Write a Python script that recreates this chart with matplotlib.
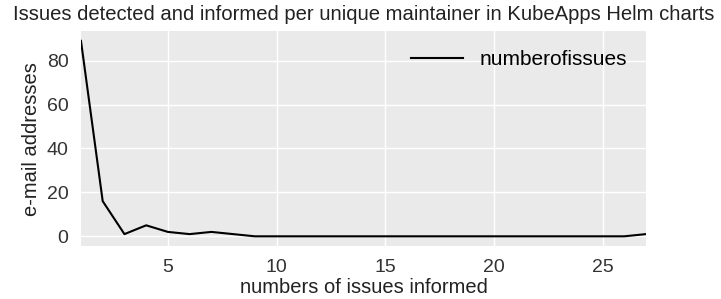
import matplotlib.pyplot as plt

# issues per maintainer
issues = list(range(1, 28))
numberofissues = [89, 16, 1, 5, 2, 1, 2, 1, 0, 0, 0, 0, 0, 0, 0, 0, 0, 0, 0, 0, 0, 0, 0, 0, 0, 0, 1]

plt.rcParams['font.family'] = ['Liberation Sans', 'DejaVu Sans']

fig, ax = plt.subplots(figsize=(7.21, 2.99), dpi=100)
ax.set_facecolor('#EAEAEA')
ax.plot(issues, numberofissues, color='black', linewidth=1.5, label='numberofissues')
ax.set_xlim(1, 27)
ax.set_xticks([5, 10, 15, 20, 25])
ax.set_yticks([0, 20, 40, 60, 80])
ax.grid(True, color='white', linewidth=1)
ax.set_axisbelow(True)
for s in ax.spines.values():
    s.set_visible(False)
ax.tick_params(length=0, labelsize=14, colors='#333333', pad=9)
ax.set_title('Issues detected and informed per unique maintainer in KubeApps Helm charts',
             fontsize=14.6, color='#222222', pad=8)
ax.set_xlabel('numbers of issues informed', fontsize=14.5, color='#222222', labelpad=2)
ax.set_ylabel('e-mail addresses', fontsize=14.5, color='#222222', labelpad=4)
ax.legend(loc='upper right', frameon=False, fontsize=15, handlelength=2.5)
plt.subplots_adjust(left=0.1123, right=0.896, top=0.896, bottom=0.177)
plt.savefig('out.png')
